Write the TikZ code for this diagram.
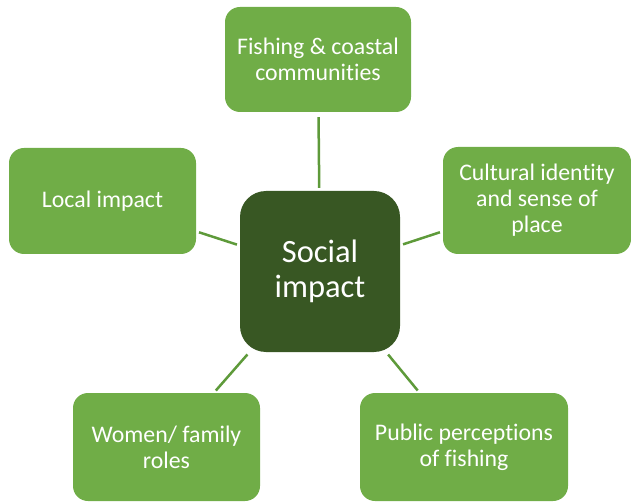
\documentclass[tikz,border=0pt]{standalone}
\usepackage{fontspec}
\setmainfont{Carlito}[Ligatures=NoCommon]
\definecolor{boxgreen}{HTML}{70AD47}
\definecolor{darkgreen}{HTML}{385723}
\definecolor{linegreen}{HTML}{5E9A3A}
\begin{document}
\begin{tikzpicture}[x=1pt,y=-1pt,
  leaf/.style={fill=boxgreen, draw=none, rounded corners=15pt, text=white, align=center,
    font=\fontsize{23.8}{26}\selectfont, inner sep=0pt},
  hub/.style={fill=darkgreen, draw=none, rounded corners=26pt, text=white, align=center,
    font=\fontsize{32.5}{35}\selectfont, inner sep=0pt, minimum width=160pt, minimum height=161pt},
  link/.style={draw=linegreen, line width=2.5pt, shorten >=3pt, shorten <=3pt}]
\useasboundingbox (0,0) rectangle (631,502);
\node[hub] (c) at (320,271.5) {Social\\impact};
\node[leaf, minimum width=186pt, minimum height=105pt] (top) at (318,59.5) {Fishing \& coastal\\communities};
\node[leaf, minimum width=187pt, minimum height=106pt] (left) at (102.5,201) {Local impact};
\node[leaf, minimum width=188pt, minimum height=107pt] (right) at (537,200.5) {Cultural identity\\and sense of\\place};
\node[leaf, minimum width=187pt, minimum height=108pt] (bl) at (166.5,447) {Women/ family\\roles};
\node[leaf, minimum width=208pt, minimum height=108pt] (br) at (464,447) {Public perceptions\\of fishing};
\draw[link, shorten <=5pt] (top) -- (c);
\draw[link] (left) -- (c);
\draw[link] (c) -- (right);
\draw[link] (c) -- (bl);
\draw[link] (c) -- (br);
\end{tikzpicture}
\end{document}
